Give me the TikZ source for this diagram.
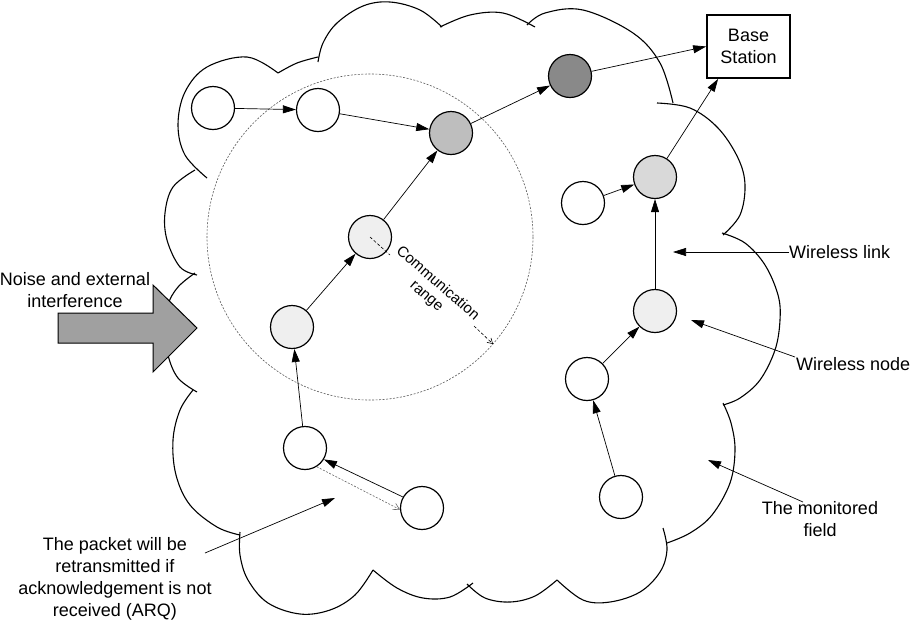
\documentclass[tikz,border=0pt]{standalone}
\usepackage{fontspec}
\setmainfont{Liberation Sans}
\usetikzlibrary{arrows.meta}
\definecolor{nlight}{RGB}{239,239,239}
\definecolor{nmid}{RGB}{217,217,217}
\definecolor{ngray}{RGB}{190,190,190}
\definecolor{ndark}{RGB}{137,137,137}
\definecolor{arrowgray}{RGB}{160,160,160}
\begin{document}
\begin{tikzpicture}[x=1pt,y=-1pt,
  wnode/.style={circle,draw,line width=1.2pt,minimum size=43pt,inner sep=0pt,fill=white},
  link/.style={line width=0.7pt,-{Triangle[length=13pt,width=8pt]}},
  cloudline/.style={line width=1.1pt},
  lbl/.style={font=\fontsize{18}{22}\selectfont,align=center,inner sep=0pt},
  smalllbl/.style={font=\fontsize{15}{17}\selectfont,align=center,inner sep=0pt},
  rangeline/.style={line width=0.6pt,dash pattern=on 3pt off 2pt},
  ackline/.style={line width=0.6pt,gray!80!black,dash pattern=on 2pt off 1.5pt,-{Straight Barb[length=6pt,width=7pt]}}
]
\useasboundingbox (0,0) rectangle (912,622);

% cloud outline (monitored field)
\begin{scope}[cloudline]
\draw plot[smooth,tension=0.6] coordinates {(207,178) (185,155) (178,125) (185,92) (207,67) (247,57) (278,73)};
\draw plot[smooth,tension=0.6] coordinates {(278,73) (297,63) (318,57)};
\draw plot[smooth,tension=0.6] coordinates {(318,62) (323,43) (337,23) (363,6) (390,2) (420,10) (442,27)};
\draw plot[smooth,tension=0.6] coordinates {(440,27) (470,15) (503,13) (535,27)};
\draw plot[smooth,tension=0.6] coordinates {(527,25) (545,13) (583,10) (633,33) (660,63) (673,103)};
\draw plot[smooth,tension=0.6] coordinates {(657,103) (690,108) (718,128) (738,158) (745,185) (740,215) (723,235)};
\draw plot[smooth,tension=0.6] coordinates {(722,233) (745,243) (765,265) (778,295) (780,320) (775,350) (760,380) (740,398) (723,405)};
\draw plot[smooth,tension=0.6] coordinates {(723,403) (731,423) (735,450) (730,483) (712,515) (690,533) (667,543)};
\draw plot[smooth,tension=0.6] coordinates {(663,528) (667,550) (660,572) (640,592) (610,602) (583,600) (557,580)};
\draw plot[smooth,tension=0.6] coordinates {(557,580) (535,596) (510,602) (485,598) (467,584)};
\draw plot[smooth,tension=0.6] coordinates {(473,583) (450,597) (423,598) (397,588) (373,570)};
\draw plot[smooth,tension=0.6] coordinates {(373,570) (355,595) (330,610) (300,614) (268,603) (248,580) (240,555) (240,532)};
\draw plot[smooth,tension=0.6] coordinates {(240,535) (217,527) (190,505) (176,475) (173,440) (180,410) (193,390)};
\draw plot[smooth,tension=0.6] coordinates {(197,392) (178,378) (168,355) (166,330) (168,305) (178,287) (195,273)};
\draw plot[smooth,tension=0.6] coordinates {(197,275) (180,267) (167,240) (165,213) (173,187) (195,170)};
\end{scope}

% noise arrow
\draw[line width=1pt,fill=arrowgray] (58,313) -- (153,313) -- (153,285) -- (197,328) -- (153,372) -- (153,343) -- (58,343) -- cycle;
\node[lbl] (noise) at (75,290) {Noise and external\\interference};

% communication range circle
\draw[line width=0.6pt,gray!70!black,dash pattern=on 2pt off 1.5pt] (370,237) circle[radius=163];

% nodes
\node[wnode] (A1) at (213,108) {};
\node[wnode] (A2) at (318,110) {};
\node[wnode,fill=ngray] (A3) at (451,133) {};
\node[wnode,fill=ndark] (A4) at (570,76) {};
\node[wnode,fill=nlight] (B1) at (370,237) {};
\node[wnode,fill=nlight] (B2) at (292,327) {};
\node[wnode] (B3) at (305,448) {};
\node[wnode] (B4) at (422,508) {};
\node[wnode] (C1) at (583,203) {};
\node[wnode,fill=nmid] (C2) at (655,177) {};
\node[wnode,fill=nlight] (C3) at (655,311) {};
\node[wnode] (C4) at (587,379) {};
\node[wnode] (C5) at (621,497) {};
\node[draw,line width=1.8pt,minimum width=83pt,minimum height=63pt,lbl] (base) at (748.5,46.5) {Base\\Station};

% range dimension
\coordinate (rA) at (390,255);
\coordinate (rB) at (474,326);
\coordinate (rC) at (493,344);
\draw[rangeline] (B1.center) -- (rA);
\draw[rangeline,-{Straight Barb[length=5pt,width=6pt]}] (rB) -- (rC);
\node[smalllbl,rotate=-41] (rangetext) at (432,290) {Communication\\range};

% links
\draw[link] (A1) -- (A2);
\draw[link] (A2) -- (A3);
\draw[link] (B1) -- (A3);
\draw[link] (A3) -- (A4);
\draw[link] (A4) -- (base.west);
\draw[link] (B2) -- (B1);
\draw[link] (B3) -- (B2);
\draw[link] (B4.150) -- (B3.-31);
\draw[ackline] (B3.-58) -- (B4.184);
\draw[link] (C1) -- (C2);
\draw[link] (C3) -- (C2);
\draw[link] (C2) -- ([xshift=12pt]base.south west);
\draw[link] (C4) -- (C3);
\draw[link] (C5) -- (C4);

% annotations
\node[lbl,anchor=west] (wl) at (789,252) {Wireless link};
\coordinate (wlTip) at (673,252);
\draw[link] (wl.west) -- (wlTip);

\node[lbl,anchor=west] (wn) at (796,364) {Wireless node};
\coordinate (wnStart) at (795,357);
\coordinate (wnTip) at (691,320);
\draw[link] (wnStart) -- (wnTip);

\node[lbl] (mf) at (820,519) {The monitored\\field};
\coordinate (mfStart) at (803,502);
\coordinate (mfTip) at (708,460);
\draw[link] (mfStart) -- (mfTip);

\node[lbl] (arq) at (115,579) {The packet will be\\retransmitted if\\acknowledgement is not\\received (ARQ)};
\coordinate (arqStart) at (205,553);
\coordinate (arqTip) at (335,498);
\draw[link] (arqStart) -- (arqTip);
\end{tikzpicture}
\end{document}
